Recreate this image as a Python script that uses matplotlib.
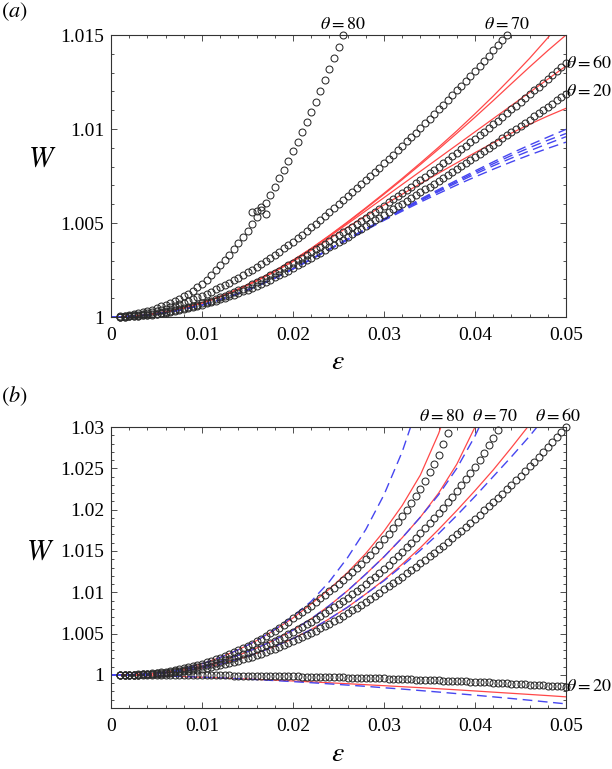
import matplotlib
matplotlib.use('Agg')
import matplotlib.pyplot as plt
from matplotlib.ticker import MultipleLocator, FuncFormatter

plt.rcParams['font.family'] = ['Liberation Serif', 'DejaVu Serif']
plt.rcParams['mathtext.fontset'] = 'stix'

# ---------------- data ----------------
eps_pts = [0.001, 0.0015, 0.002, 0.0025, 0.003, 0.0035, 0.004, 0.0045, 0.005, 0.0055,
           0.006, 0.0065, 0.007, 0.0075, 0.008, 0.0085, 0.009, 0.0095, 0.01, 0.0105,
           0.011, 0.0115, 0.012, 0.0125, 0.013, 0.0135, 0.014, 0.0145, 0.015, 0.0155,
           0.016, 0.0165, 0.017, 0.0175, 0.018, 0.0185, 0.019, 0.0195, 0.02, 0.0205,
           0.021, 0.0215, 0.022, 0.0225, 0.023, 0.0235, 0.024, 0.0245, 0.025, 0.0255,
           0.026, 0.0265, 0.027, 0.0275, 0.028, 0.0285, 0.029, 0.0295, 0.03, 0.0305,
           0.031, 0.0315, 0.032, 0.0325, 0.033, 0.0335, 0.034, 0.0345, 0.035, 0.0355,
           0.036, 0.0365, 0.037, 0.0375, 0.038, 0.0385, 0.039, 0.0395, 0.04, 0.0405,
           0.041, 0.0415, 0.042, 0.0425, 0.043, 0.0435, 0.044, 0.0445, 0.045, 0.0455,
           0.046, 0.0465, 0.047, 0.0475, 0.048, 0.0485, 0.049, 0.0495, 0.05]

eps_line = [0.0, 0.002, 0.004, 0.006, 0.008, 0.01, 0.012, 0.014, 0.016, 0.018, 0.02,
            0.022, 0.024, 0.026, 0.028, 0.03, 0.032, 0.034, 0.036, 0.038, 0.04, 0.042,
            0.044, 0.046, 0.048, 0.05]

# ---- panel (a): symbols ----
W20a = [1.00001, 1.00001, 1.00003, 1.00004, 1.00006, 1.00008, 1.00010, 1.00013, 1.00016, 1.00020,
        1.00023, 1.00028, 1.00032, 1.00037, 1.00042, 1.00047, 1.00053, 1.00059, 1.00065, 1.00072,
        1.00079, 1.00086, 1.00094, 1.00102, 1.00110, 1.00119, 1.00127, 1.00137, 1.00146, 1.00156,
        1.00166, 1.00177, 1.00188, 1.00199, 1.00211, 1.00223, 1.00235, 1.00247, 1.00260, 1.00274,
        1.00287, 1.00301, 1.00315, 1.00328, 1.00342, 1.00356, 1.00370, 1.00384, 1.00398, 1.00412,
        1.00427, 1.00441, 1.00455, 1.00470, 1.00484, 1.00499, 1.00514, 1.00528, 1.00543, 1.00558,
        1.00573, 1.00588, 1.00603, 1.00618, 1.00633, 1.00648, 1.00664, 1.00679, 1.00694, 1.00710,
        1.00725, 1.00741, 1.00757, 1.00772, 1.00788, 1.00804, 1.00820, 1.00836, 1.00852, 1.00868,
        1.00884, 1.00901, 1.00917, 1.00933, 1.00950, 1.00966, 1.00983, 1.01000, 1.01016, 1.01033,
        1.01050, 1.01067, 1.01084, 1.01101, 1.01118, 1.01135, 1.01152, 1.01170, 1.01187]

W60a = [1.00001, 1.00002, 1.00003, 1.00005, 1.00007, 1.00009, 1.00012, 1.00015, 1.00018, 1.00022,
        1.00026, 1.00030, 1.00035, 1.00041, 1.00046, 1.00052, 1.00058, 1.00065, 1.00072, 1.00079,
        1.00087, 1.00095, 1.00104, 1.00113, 1.00122, 1.00131, 1.00141, 1.00151, 1.00162, 1.00173,
        1.00184, 1.00196, 1.00208, 1.00221, 1.00233, 1.00246, 1.00260, 1.00274, 1.00288, 1.00302,
        1.00316, 1.00331, 1.00345, 1.00360, 1.00374, 1.00389, 1.00404, 1.00419, 1.00434, 1.00450,
        1.00465, 1.00481, 1.00496, 1.00512, 1.00528, 1.00544, 1.00560, 1.00577, 1.00593, 1.00610,
        1.00626, 1.00643, 1.00660, 1.00677, 1.00694, 1.00712, 1.00729, 1.00747, 1.00764, 1.00782,
        1.00800, 1.00818, 1.00836, 1.00855, 1.00873, 1.00892, 1.00910, 1.00929, 1.00948, 1.00967,
        1.00986, 1.01006, 1.01025, 1.01045, 1.01064, 1.01084, 1.01104, 1.01124, 1.01144, 1.01165,
        1.01185, 1.01206, 1.01226, 1.01247, 1.01268, 1.01289, 1.01310, 1.01332, 1.01353]

W70a = [1.00002, 1.00004, 1.00006, 1.00009, 1.00013, 1.00017, 1.00021, 1.00027, 1.00032, 1.00038,
        1.00045, 1.00052, 1.00059, 1.00067, 1.00076, 1.00085, 1.00094, 1.00104, 1.00114, 1.00124,
        1.00135, 1.00147, 1.00158, 1.00171, 1.00183, 1.00196, 1.00210, 1.00223, 1.00238, 1.00252,
        1.00267, 1.00283, 1.00298, 1.00315, 1.00331, 1.00348, 1.00366, 1.00383, 1.00401, 1.00419,
        1.00438, 1.00458, 1.00478, 1.00497, 1.00517, 1.00538, 1.00558, 1.00579, 1.00599, 1.00620,
        1.00642, 1.00663, 1.00684, 1.00706, 1.00728, 1.00750, 1.00772, 1.00795, 1.00818, 1.00840,
        1.00863, 1.00887, 1.00910, 1.00934, 1.00957, 1.00981, 1.01006, 1.01030, 1.01054, 1.01079,
        1.01104, 1.01129, 1.01154, 1.01180, 1.01206, 1.01231, 1.01257, 1.01284, 1.01310, 1.01337,
        1.01363, 1.01390, 1.01418, 1.01445, 1.01472, 1.01500]

W80a = [1.00003, 1.00006, 1.00010, 1.00014, 1.00019, 1.00025, 1.00032, 1.00039, 1.00047, 1.00056,
        1.00065, 1.00075, 1.00086, 1.00098, 1.00111, 1.00125, 1.00140, 1.00157, 1.00176, 1.00197,
        1.00222, 1.00248, 1.00275, 1.00303, 1.00332, 1.00362, 1.00393, 1.00425, 1.00458, 1.00493,
        1.00530, 1.00568, 1.00608, 1.00650, 1.00693, 1.00738, 1.00784, 1.00832, 1.00881, 1.00931,
        1.00983, 1.01036, 1.01090, 1.01143, 1.01200, 1.01258, 1.01317, 1.01377, 1.01438, 1.01500]

# extra scattered symbols of the theta=80 set
eps80a_extra = [0.0155, 0.016, 0.0165, 0.017]
W80a_extra = [1.00558, 1.00562, 1.00585, 1.00550]

# ---- panel (a): curves ----
Wa_red1 = [1.0, 1.00003, 1.00012, 1.00027, 1.00048, 1.00075, 1.00109, 1.00149, 1.00195, 1.00246,
           1.00302, 1.00365, 1.00434, 1.00506, 1.00581, 1.00658, 1.00737, 1.00819, 1.00903, 1.00990,
           1.01081, 1.01175, 1.01274, 1.01376, 1.01485, 1.01600]
Wa_red2 = [1.0, 1.00003, 1.00012, 1.00027, 1.00048, 1.00075, 1.00109, 1.00149, 1.00195, 1.00246,
           1.00302, 1.00364, 1.00432, 1.00503, 1.00577, 1.00653, 1.00731, 1.00811, 1.00893, 1.00977,
           1.01063, 1.01151, 1.01241, 1.01330, 1.01417, 1.01500]
Wa_red3 = [1.0, 1.00003, 1.00012, 1.00027, 1.00048, 1.00075, 1.00108, 1.00147, 1.00193, 1.00244,
           1.00300, 1.00362, 1.00428, 1.00496, 1.00565, 1.00635, 1.00705, 1.00775, 1.00845, 1.00915,
           1.00985, 1.01055, 1.01125, 1.01195, 1.01265, 1.01335]
Wa_red4 = [1.0, 1.00003, 1.00012, 1.00027, 1.00048, 1.00074, 1.00107, 1.00146, 1.00191, 1.00241,
           1.00295, 1.00355, 1.00416, 1.00478, 1.00538, 1.00596, 1.00653, 1.00709, 1.00765, 1.00820,
           1.00874, 1.00927, 1.00978, 1.01025, 1.01069, 1.01110]
Wa_blue1 = [1.0, 1.00003, 1.00010, 1.00023, 1.00041, 1.00064, 1.00092, 1.00125, 1.00164, 1.00207,
            1.00256, 1.00308, 1.00361, 1.00415, 1.00469, 1.00522, 1.00575, 1.00627, 1.00678, 1.00728,
            1.00777, 1.00825, 1.00871, 1.00915, 1.00957, 1.00998]
Wa_blue2 = [1.0, 1.00003, 1.00010, 1.00023, 1.00041, 1.00064, 1.00092, 1.00125, 1.00164, 1.00207,
            1.00256, 1.00308, 1.00361, 1.00414, 1.00467, 1.00519, 1.00571, 1.00622, 1.00672, 1.00721,
            1.00769, 1.00815, 1.00859, 1.00901, 1.00940, 1.00976]
Wa_blue3 = [1.0, 1.00003, 1.00010, 1.00023, 1.00041, 1.00064, 1.00092, 1.00125, 1.00164, 1.00207,
            1.00256, 1.00307, 1.00360, 1.00412, 1.00465, 1.00517, 1.00568, 1.00618, 1.00667, 1.00714,
            1.00760, 1.00804, 1.00845, 1.00884, 1.00922, 1.00959]
Wa_blue4 = [1.0, 1.00003, 1.00010, 1.00023, 1.00041, 1.00064, 1.00092, 1.00125, 1.00164, 1.00207,
            1.00256, 1.00307, 1.00359, 1.00410, 1.00462, 1.00514, 1.00563, 1.00611, 1.00657, 1.00702,
            1.00745, 1.00786, 1.00825, 1.00862, 1.00897, 1.00930]

# ---- panel (b): symbols ----
W20b = [1.0, 1.0, 1.0, 1.0, 1.0, 1.0, 1.0, 0.99999, 0.99999, 0.99999,
        0.99999, 0.99999, 0.99998, 0.99998, 0.99998, 0.99997, 0.99997, 0.99997, 0.99996, 0.99996,
        0.99996, 0.99995, 0.99995, 0.99994, 0.99994, 0.99993, 0.99992, 0.99992, 0.99991, 0.99990,
        0.99990, 0.99989, 0.99988, 0.99987, 0.99986, 0.99985, 0.99985, 0.99984, 0.99983, 0.99982,
        0.99981, 0.99980, 0.99979, 0.99977, 0.99976, 0.99975, 0.99974, 0.99973, 0.99972, 0.99970,
        0.99969, 0.99968, 0.99966, 0.99965, 0.99963, 0.99962, 0.99960, 0.99958, 0.99957, 0.99955,
        0.99953, 0.99952, 0.99950, 0.99948, 0.99946, 0.99944, 0.99942, 0.99940, 0.99938, 0.99936,
        0.99934, 0.99932, 0.99930, 0.99928, 0.99925, 0.99923, 0.99921, 0.99918, 0.99916, 0.99914,
        0.99911, 0.99909, 0.99906, 0.99904, 0.99901, 0.99898, 0.99896, 0.99893, 0.99890, 0.99887,
        0.99884, 0.99881, 0.99878, 0.99875, 0.99872, 0.99869, 0.99866, 0.99863, 0.99860]

W60b = [1.0, 1.00001, 1.00002, 1.00003, 1.00004, 1.00006, 1.00008, 1.00010, 1.00013, 1.00016,
        1.00020, 1.00025, 1.00030, 1.00036, 1.00042, 1.00049, 1.00056, 1.00064, 1.00073, 1.00083,
        1.00093, 1.00104, 1.00116, 1.00129, 1.00142, 1.00156, 1.00171, 1.00187, 1.00203, 1.00220,
        1.00238, 1.00257, 1.00276, 1.00296, 1.00317, 1.00339, 1.00362, 1.00386, 1.00410, 1.00435,
        1.00460, 1.00485, 1.00510, 1.00537, 1.00565, 1.00592, 1.00620, 1.00650, 1.00680, 1.00712,
        1.00745, 1.00780, 1.00815, 1.00850, 1.00885, 1.00922, 1.00960, 1.00997, 1.01035, 1.01072,
        1.01110, 1.01150, 1.01190, 1.01230, 1.01270, 1.01310, 1.01350, 1.01392, 1.01435, 1.01477,
        1.01520, 1.01565, 1.01610, 1.01655, 1.01700, 1.01747, 1.01795, 1.01842, 1.01890, 1.01940,
        1.01990, 1.02040, 1.02090, 1.02142, 1.02195, 1.02247, 1.02300, 1.02355, 1.02410, 1.02467,
        1.02525, 1.02582, 1.02640, 1.02700, 1.02760, 1.02822, 1.02885, 1.02945, 1.03000]

W70b = [1.0, 1.00001, 1.00002, 1.00003, 1.00005, 1.00007, 1.00010, 1.00014, 1.00018, 1.00023,
        1.00029, 1.00036, 1.00043, 1.00051, 1.00060, 1.00070, 1.00080, 1.00091, 1.00103, 1.00116,
        1.00130, 1.00145, 1.00160, 1.00176, 1.00193, 1.00211, 1.00230, 1.00250, 1.00270, 1.00291,
        1.00313, 1.00336, 1.00360, 1.00385, 1.00410, 1.00436, 1.00463, 1.00491, 1.00520, 1.00550,
        1.00580, 1.00611, 1.00643, 1.00676, 1.00710, 1.00745, 1.00780, 1.00817, 1.00855, 1.00894,
        1.00933, 1.00974, 1.01015, 1.01057, 1.01100, 1.01145, 1.01190, 1.01237, 1.01285, 1.01335,
        1.01385, 1.01437, 1.01490, 1.01545, 1.01600, 1.01657, 1.01715, 1.01775, 1.01835, 1.01897,
        1.01960, 1.02025, 1.02090, 1.02157, 1.02225, 1.02295, 1.02365, 1.02440, 1.02520, 1.02605,
        1.02690, 1.02780, 1.02870, 1.02965]

W80b = [1.0, 1.00001, 1.00003, 1.00005, 1.00007, 1.00010, 1.00014, 1.00019, 1.00024, 1.00031,
        1.00038, 1.00047, 1.00056, 1.00067, 1.00078, 1.00091, 1.00104, 1.00119, 1.00134, 1.00151,
        1.00168, 1.00187, 1.00207, 1.00228, 1.00250, 1.00274, 1.00298, 1.00324, 1.00350, 1.00378,
        1.00407, 1.00437, 1.00469, 1.00502, 1.00536, 1.00571, 1.00608, 1.00646, 1.00685, 1.00722,
        1.00760, 1.00800, 1.00840, 1.00882, 1.00925, 1.00967, 1.01010, 1.01055, 1.01100, 1.01147,
        1.01195, 1.01245, 1.01295, 1.01347, 1.01400, 1.01457, 1.01515, 1.01577, 1.01640, 1.01707,
        1.01775, 1.01847, 1.01920, 1.01998, 1.02080, 1.02165, 1.02255, 1.02350, 1.02450, 1.02550,
        1.02660, 1.02790, 1.02930]

# ---- panel (b): curves ----
Wb_red80 = [1.0, 1.00003, 1.00013, 1.00035, 1.00075, 1.00135, 1.00212, 1.00305, 1.00415, 1.00545,
            1.00690, 1.00860, 1.01040, 1.01240, 1.01470, 1.01740, 1.02050, 1.02420, 1.02920, 1.03550]
Wb_blue80 = [1.0, 1.00003, 1.00013, 1.00035, 1.00075, 1.00135, 1.00212, 1.00305, 1.00417, 1.00550,
             1.00710, 1.00890, 1.01130, 1.01420, 1.01760, 1.02180, 1.02700, 1.03350]
Wb_red70 = [1.0, 1.00002, 1.00010, 1.00030, 1.00060, 1.00105, 1.00165, 1.00238, 1.00325, 1.00425,
            1.00542, 1.00680, 1.00840, 1.01020, 1.01220, 1.01430, 1.01660, 1.01910, 1.02200, 1.02550,
            1.03000, 1.03600]
Wb_blue70 = [1.0, 1.00002, 1.00010, 1.00030, 1.00060, 1.00105, 1.00165, 1.00238, 1.00325, 1.00425,
             1.00542, 1.00680, 1.00840, 1.01020, 1.01220, 1.01430, 1.01660, 1.01910, 1.02180, 1.02500,
             1.02890, 1.03360]
Wb_red60 = [1.0, 1.00002, 1.00008, 1.00022, 1.00046, 1.00082, 1.00130, 1.00190, 1.00262, 1.00345,
            1.00440, 1.00550, 1.00680, 1.00820, 1.00980, 1.01150, 1.01340, 1.01540, 1.01760, 1.01990,
            1.02230, 1.02480, 1.02750, 1.03030, 1.03330]
Wb_blue60 = [1.0, 1.00002, 1.00008, 1.00022, 1.00046, 1.00082, 1.00130, 1.00190, 1.00262, 1.00345,
             1.00440, 1.00550, 1.00680, 1.00820, 1.00980, 1.01140, 1.01320, 1.01510, 1.01710, 1.01930,
             1.02160, 1.02400, 1.02640, 1.02890, 1.03160]
Wb_red20 = [1.0, 0.99997, 0.99992, 0.99986, 0.99980, 0.99972, 0.99964, 0.99955, 0.99946, 0.99937,
            0.99927, 0.99916, 0.99905, 0.99894, 0.99882, 0.99870, 0.99858, 0.99846, 0.99833, 0.99820,
            0.99806, 0.99792, 0.99778, 0.99764, 0.99750, 0.99735]
Wb_blue20 = [1.0, 0.99998, 0.99994, 0.99988, 0.99981, 0.99973, 0.99964, 0.99954, 0.99944, 0.99932,
             0.99919, 0.99906, 0.99892, 0.99877, 0.99862, 0.99845, 0.99829, 0.99811, 0.99793, 0.99774,
             0.99755, 0.99735, 0.99715, 0.99694, 0.99672, 0.99650]

# ---------------- styling ----------------
RED = '#ff4848'
BLUE = '#4646f0'
SYM = dict(ls='none', marker='o', mfc='none', mec='#2a2a2a', ms=5.0, mew=0.75,
           clip_on=False, zorder=3)
RSTY = dict(color=RED, lw=0.9, zorder=2)
BSTY = dict(color=BLUE, lw=1.0, ls=(0, (7, 4)), zorder=2)


def fmt(v, pos):
    s = ('%.3f' % v).rstrip('0').rstrip('.')
    return '0' if s in ('-0', '') else s


fig = plt.figure(figsize=(6.12, 7.69), dpi=100)
axA = fig.add_axes([111 / 612, 1 - 317 / 769, 455 / 612, 282 / 769])
axB = fig.add_axes([111 / 612, 1 - 708 / 769, 455 / 612, 281 / 769])

# panel (a)
for W in (Wa_red1, Wa_red2, Wa_red3, Wa_red4):
    axA.plot(eps_line[:len(W)], W, **RSTY)
for W in (Wa_blue1, Wa_blue2, Wa_blue3, Wa_blue4):
    axA.plot(eps_line[:len(W)], W, **BSTY)
for W in (W20a, W60a, W70a, W80a):
    axA.plot(eps_pts[:len(W)], W, **SYM)
axA.plot(eps80a_extra, W80a_extra, **SYM)
axA.set_xlim(0, 0.05)
axA.set_ylim(1.0, 1.015)
axA.yaxis.set_major_locator(MultipleLocator(0.005))
axA.yaxis.set_minor_locator(MultipleLocator(0.001))

# panel (b)
for W in (Wb_red80, Wb_red70, Wb_red60, Wb_red20):
    axB.plot(eps_line[:len(W)], W, **RSTY)
for W in (Wb_blue80, Wb_blue70, Wb_blue60, Wb_blue20):
    axB.plot(eps_line[:len(W)], W, **BSTY)
for W in (W20b, W60b, W70b, W80b):
    axB.plot(eps_pts[:len(W)], W, **SYM)
axB.set_xlim(0, 0.05)
axB.set_ylim(0.996, 1.03)
axB.yaxis.set_major_locator(MultipleLocator(0.005))
axB.yaxis.set_minor_locator(MultipleLocator(0.001))

for ax in (axA, axB):
    ax.xaxis.set_major_locator(MultipleLocator(0.01))
    ax.xaxis.set_minor_locator(MultipleLocator(0.002))
    ax.xaxis.set_major_formatter(FuncFormatter(fmt))
    ax.yaxis.set_major_formatter(FuncFormatter(fmt))
    ax.tick_params(which='both', direction='in', top=True, right=True,
                   width=0.6, color='#333333')
    ax.tick_params(which='major', length=4.0, labelsize=14)
    ax.tick_params(which='minor', length=2.2)
    ax.tick_params(axis='x', pad=7)
    ax.tick_params(axis='y', pad=5)
    for sp in ax.spines.values():
        sp.set_linewidth(0.8)
        sp.set_color('#333333')
    ax.set_xlabel(r'$\varepsilon$', fontsize=20, va='center')
    ax.set_ylabel(r'$W$', fontsize=21, rotation=0, va='center', ha='center')

axA.xaxis.set_label_coords(0.499, -0.163)
axA.yaxis.set_label_coords(-0.152, 0.56)
axB.xaxis.set_label_coords(0.499, -0.167)
axB.yaxis.set_label_coords(-0.156, 0.555)

# curve labels
tk = dict(fontsize=13, clip_on=False)
lab80 = r'$\theta{=}80$'
lab70 = r'$\theta{=}70$'
lab60 = r'$\theta{=}60$'
lab20 = r'$\theta{=}20$'
axA.text(0.0255, 1.0151, lab80, ha='center', va='bottom', **tk)
axA.text(0.0435, 1.0151, lab70, ha='center', va='bottom', **tk)
axA.text(0.0500, 1.01351, lab60, ha='left', va='center', **tk)
axA.text(0.0500, 1.01197, lab20, ha='left', va='center', **tk)
axB.text(0.0364, 1.0302, lab80, ha='center', va='bottom', **tk)
axB.text(0.0422, 1.0302, lab70, ha='center', va='bottom', **tk)
axB.text(0.0491, 1.0302, lab60, ha='center', va='bottom', **tk)
axB.text(0.0500, 0.99855, lab20, ha='left', va='center', **tk)

fig.text(0.002, 0.999, r'$(a)$', fontsize=16, ha='left', va='top')
fig.text(0.002, 1 - 396 / 769, r'$(b)$', fontsize=16, ha='left', va='center')

fig.savefig('out.png', dpi=100)
